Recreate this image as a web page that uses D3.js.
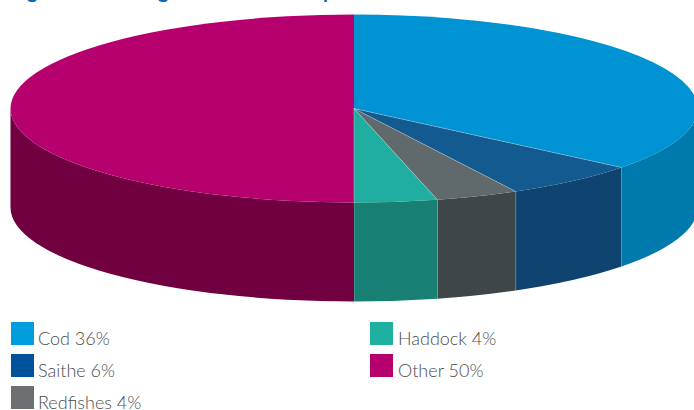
<!DOCTYPE html>
<html><head><meta charset="utf-8">
<script src="https://cdn.jsdelivr.net/npm/d3@7"></script>
<style>html,body{margin:0;padding:0;background:#fff;overflow:hidden}svg{display:block}text{font-family:Lato,"Open Sans",sans-serif;font-weight:300}</style>
</head><body><svg id="c" width="694" height="410"></svg>
<script>
const categories=["Cod","Saithe","Redfishes","Haddock","Other"];
const shares=[36,6,4,4,50];
const sliceValues=[35.8,6.4,3.9,3.9,50];
const topColors=["#0093d3","#125a8f","#60696b","#1fae9f","#b5006e"];
const sideColors=["#0079ad","#0f4370","#3f4648","#187f74","#700040"];
const legendColors=["#009ddf","#00539b","#6d6e71","#1fb0a2","#b5006e"];
const legendCols=[0,0,0,1,1];
const legendRows=[0,1,2,0,1];
const titleFragments=["g","g","p"];

(function(){
const cx=354,cy=108.5,rx=343.5,ry=94,depth=99;
const svg=d3.select("#c");
const arcs=d3.pie().sort(null).value(d=>d)(sliceValues);
const pt=a=>[cx+rx*Math.sin(a),cy-ry*Math.cos(a)];
const seam="rgba(255,255,255,0.4)";

// the cropped title line: only descenders remain above the top edge
const fragX=d3.scaleOrdinal().domain([0,1,2]).range([27,158,323]);
svg.selectAll("text.frag").data(titleFragments).join("text").attr("class","frag")
  .attr("x",(d,i)=>fragX(i)).attr("y",-2).attr("font-size",20)
  .style("font-weight",700).attr("fill","#0a64b0").text(d=>d);

// side wall: bottom half of the ellipse only
arcs.forEach((d,i)=>{
  const a0=Math.max(d.startAngle,Math.PI/2),a1=Math.min(d.endAngle,Math.PI*1.5);
  if(a1<=a0)return;
  const [x0,y0]=pt(a0),[x1,y1]=pt(a1);
  const s=`M${x0},${y0}A${rx},${ry} 0 0 1 ${x1},${y1}L${x1},${y1+depth}A${rx},${ry} 0 0 0 ${x0},${y0+depth}Z`;
  svg.append("path").attr("d",s).attr("fill",sideColors[i]);
  if(i<4){
    const [ex,ey]=pt(d.endAngle);
    svg.append("line").attr("x1",ex).attr("y1",ey).attr("x2",ex).attr("y2",ey+depth)
      .attr("stroke",seam).attr("stroke-width",0.8);
  }
});

// top face
const face=svg.append("g").attr("transform",`translate(${cx},${cy}) scale(1,${ry/rx})`);
const arcGen=d3.arc().innerRadius(0).outerRadius(rx);
face.selectAll("path").data(arcs).join("path").attr("d",arcGen)
  .attr("fill",(d,i)=>topColors[i]);
arcs.forEach((d,i)=>{
  if(i>=4)return;
  const [ex,ey]=pt(d.endAngle);
  svg.append("line").attr("x1",cx).attr("y1",cy).attr("x2",ex).attr("y2",ey)
    .attr("stroke",seam).attr("stroke-width",0.7);
});

// legend
const xCol=d3.scaleOrdinal().domain([0,1]).range([11,370]);
const yRow=d3.scalePoint().domain([0,1,2]).range([322,386]);
const lg=svg.selectAll("g.lg").data(categories).join("g").attr("class","lg")
  .attr("transform",(d,i)=>`translate(${xCol(legendCols[i])},${yRow(legendRows[i])})`);
lg.append("rect").attr("width",23).attr("height",23).attr("fill",(d,i)=>legendColors[i]);
lg.append("text").attr("x",(d,i)=>legendCols[i]?28:27).attr("y",23)
  .attr("font-size",18).attr("fill","#4a4c4f")
  .text((d,i)=>`${d} ${shares[i]}%`);
})();
</script></body></html>
